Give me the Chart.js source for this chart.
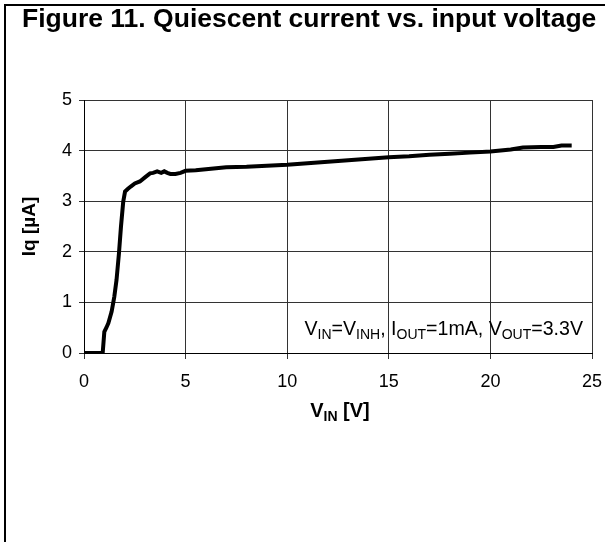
<!DOCTYPE html>
<html lang="en">
<head>
    <meta charset="UTF-8">
    <title>Figure 11. Quiescent current vs. input voltage</title>
    <script src="https://cdn.jsdelivr.net/npm/chart.js"></script>
    <style>
        body {
            margin: 0;
            background: #fff;
        }
        #iqChart {
            display: block;
        }
    </style>
</head>
<body>
    <canvas id="iqChart" width="605" height="542"></canvas>

    <script>
        // Input voltage (V) and quiescent current (uA)
        const vin = [0, 0.5, 0.92, 1.0, 1.1, 1.2, 1.36, 1.49, 1.6, 1.72, 1.82, 1.93, 2.02, 2.15, 2.3, 2.5, 2.75, 3.0, 3.25, 3.4, 3.6, 3.8, 3.95, 4.1, 4.25, 4.5, 4.75, 5.0, 5.5, 6.0, 7.0, 8.0, 9.0, 10, 11, 12, 13, 14, 15, 16, 17, 18, 19, 20, 21, 21.6, 22.5, 23.1, 23.5, 24];
        const iq  = [0, 0, 0, 0.42, 0.5, 0.59, 0.82, 1.11, 1.44, 1.97, 2.5, 2.99, 3.19, 3.24, 3.29, 3.35, 3.39, 3.47, 3.55, 3.56, 3.59, 3.56, 3.59, 3.56, 3.54, 3.54, 3.56, 3.6, 3.61, 3.63, 3.67, 3.68, 3.7, 3.72, 3.75, 3.78, 3.81, 3.84, 3.87, 3.89, 3.92, 3.94, 3.96, 3.98, 4.02, 4.06, 4.07, 4.07, 4.1, 4.1];

        const xTicks = [0, 5, 10, 15, 20, 25];
        const yTicks = [0, 1, 2, 3, 4, 5];

        const FONT = '"Liberation Sans", Arial, sans-serif';

        // draw a run of text pieces, some of them as subscripts
        function drawRich(ctx, parts, x, y, size, bold) {
            const w = bold ? 'bold ' : '';
            const subSize = Math.round(size * 0.7);
            let cx = x;
            parts.forEach(p => {
                ctx.font = w + (p.sub ? subSize : size) + 'px ' + FONT;
                ctx.fillText(p.t, cx, p.sub ? y + size * 0.22 : y);
                cx += ctx.measureText(p.t).width;
            });
            return cx - x;
        }
        function richWidth(ctx, parts, size, bold) {
            const w = bold ? 'bold ' : '';
            const subSize = Math.round(size * 0.7);
            let total = 0;
            parts.forEach(p => {
                ctx.font = w + (p.sub ? subSize : size) + 'px ' + FONT;
                total += ctx.measureText(p.t).width;
            });
            return total;
        }

        const decorations = {
            id: 'decorations',
            afterDraw(chart) {
                const ctx = chart.ctx;
                const area = chart.chartArea;
                const xs = chart.scales.x;
                const ys = chart.scales.y;
                ctx.save();
                ctx.fillStyle = '#000';
                ctx.textBaseline = 'alphabetic';
                ctx.textAlign = 'left';

                // frame (top and left only)
                ctx.fillRect(4, 4, 601, 2);
                ctx.fillRect(4, 4, 2, 538);

                // figure title
                ctx.font = 'bold 26.5px ' + FONT;
                ctx.fillText('Figure 11. Quiescent current vs. input voltage', 22, 27);

                // y axis title
                ctx.save();
                ctx.translate(35, (area.top + area.bottom) / 2);
                ctx.rotate(-Math.PI / 2);
                ctx.textAlign = 'center';
                ctx.font = 'bold 19px ' + FONT;
                ctx.fillText('Iq [\u00b5A]', 0, 0);
                ctx.restore();

                // x axis title
                const xt = [{t: 'V'}, {t: 'IN', sub: true}, {t: ' [V]'}];
                const xw = richWidth(ctx, xt, 20, true);
                drawRich(ctx, xt, (area.left + area.right) / 2 - xw / 2 + 2, 417, 20, true);

                // test conditions
                const cond = [
                    {t: 'V'}, {t: 'IN', sub: true}, {t: '=V'}, {t: 'INH', sub: true},
                    {t: ', I'}, {t: 'OUT', sub: true}, {t: '=1mA, V'}, {t: 'OUT', sub: true},
                    {t: '=3.3V'}
                ];
                drawRich(ctx, cond, xs.getPixelForValue(10.85), ys.getPixelForValue(0.36), 19.6, false);

                ctx.restore();
            }
        };

        const ctx = document.getElementById('iqChart').getContext('2d');
        const iqChart = new Chart(ctx, {
            type: 'scatter',
            data: {
                datasets: [{
                    data: vin.map((v, i) => ({x: v, y: iq[i]})),
                    showLine: true,
                    borderColor: '#000',
                    borderWidth: 4,
                    pointRadius: 0,
                    tension: 0,
                    fill: false
                }]
            },
            options: {
                responsive: false,
                animation: false,
                layout: {
                    padding: {left: 0, right: 13, top: 100, bottom: 0}
                },
                plugins: {
                    legend: {display: false},
                    tooltip: {enabled: false},
                    title: {display: false}
                },
                scales: {
                    x: {
                        type: 'linear',
                        min: 0,
                        max: 25,
                        afterBuildTicks: s => { s.ticks = xTicks.map(v => ({value: v})); },
                        afterFit: s => {
                            s.height = 542 - 353;
                            s.paddingLeft = 0;
                            s.paddingRight = 0;
                        },
                        grid: {color: '#333', lineWidth: 1, tickLength: 6, drawTicks: true},
                        border: {color: '#000', width: 1},
                        ticks: {color: '#000', padding: 12, font: {family: FONT, size: 18}}
                    },
                    y: {
                        type: 'linear',
                        min: 0,
                        max: 5,
                        afterBuildTicks: s => { s.ticks = yTicks.map(v => ({value: v})); },
                        afterFit: s => { s.width = 84; },
                        grid: {color: '#333', lineWidth: 1, tickLength: 5, drawTicks: true},
                        border: {color: '#000', width: 1},
                        ticks: {color: '#000', padding: 7, font: {family: FONT, size: 18}}
                    }
                }
            },
            plugins: [decorations]
        });
    </script>
</body>
</html>
